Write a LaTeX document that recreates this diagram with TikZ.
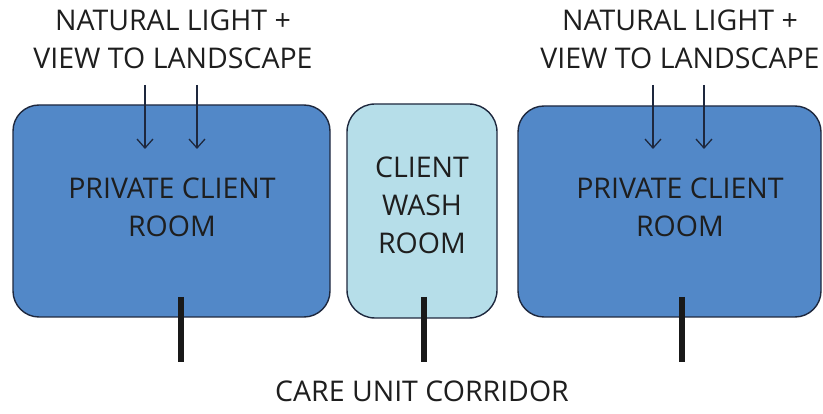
\documentclass[tikz,border=0pt]{standalone}
\usepackage{fontspec}
\setmainfont{Open Sans}
\usetikzlibrary{arrows.meta}
\definecolor{roomblue}{RGB}{82,136,200}
\definecolor{washblue}{RGB}{182,222,233}
\definecolor{edge}{RGB}{30,40,62}
\definecolor{ink}{RGB}{30,30,30}
\tikzset{
  room/.style={draw=edge, line width=1.4pt, rounded corners=26pt, fill=roomblue},
  washroom/.style={draw=edge, line width=1.4pt, rounded corners=28pt, fill=washblue},
  lbl/.style={text=ink, font=\fontsize{28.5}{38}\selectfont, align=center, inner sep=0pt},
  lightarrow/.style={draw=edge, line width=1.3pt, -{Straight Barb[length=9pt,width=16pt,line width=1.3pt]}},
  door/.style={draw=black!90, line width=5.5pt}
}
\begin{document}
\begin{tikzpicture}[x=1pt,y=-1pt]
\useasboundingbox (0,0) rectangle (823,414);
% rooms
\draw[room] (13,105) rectangle (330,317);
\draw[washroom] (347,104) rectangle (497,318);
\draw[room] (518,106) rectangle (821,317);
% room labels
\node[lbl] (pl) at (172,207) {PRIVATE CLIENT\\ROOM};
\node[lbl] (wr) at (422,205) {CLIENT\\WASH\\ROOM};
\node[lbl] (pr) at (680,207) {PRIVATE CLIENT\\ROOM};
% daylight labels
\node[lbl] (tl) at (173,39) {NATURAL LIGHT +\\VIEW TO LANDSCAPE};
\node[lbl] (tr) at (680,39) {NATURAL LIGHT +\\VIEW TO LANDSCAPE};
% daylight arrows
\coordinate (a1s) at (145,85); \coordinate (a1e) at (145,149);
\coordinate (a2s) at (197,85); \coordinate (a2e) at (197,149);
\coordinate (a3s) at (653,85); \coordinate (a3e) at (653,149);
\coordinate (a4s) at (704,85); \coordinate (a4e) at (704,149);
\draw[lightarrow] (a1s) -- (a1e);
\draw[lightarrow] (a2s) -- (a2e);
\draw[lightarrow] (a3s) -- (a3e);
\draw[lightarrow] (a4s) -- (a4e);
% doors to corridor
\coordinate (d1a) at (181,297); \coordinate (d1b) at (181,362);
\coordinate (d2a) at (424,297); \coordinate (d2b) at (424,362);
\coordinate (d3a) at (682,297); \coordinate (d3b) at (682,362);
\draw[door] (d1a) -- (d1b);
\draw[door] (d2a) -- (d2b);
\draw[door] (d3a) -- (d3b);
% corridor
\node[lbl] (cor) at (422,391) {CARE UNIT CORRIDOR};
\end{tikzpicture}
\end{document}
